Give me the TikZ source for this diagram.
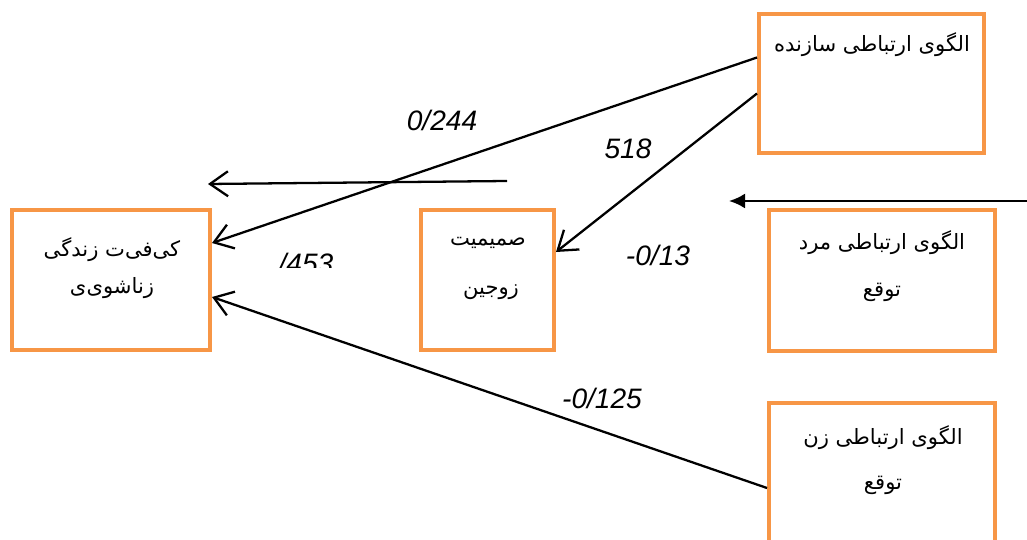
\documentclass[tikz,border=0pt]{standalone}
\usepackage{fontspec}
\usepackage{xcolor}
\usetikzlibrary{arrows.meta}
\setsansfont{Liberation Sans}
\newfontfamily\arabicfont[Script=Arabic]{DejaVu Sans}
\TeXXeTstate=1
\definecolor{boxorange}{HTML}{F79646}
\newcommand{\fa}[1]{{\arabicfont\fontsize{12}{14}\selectfont\beginR #1\endR}}

\begin{document}
\begin{tikzpicture}[x=0.02cm,y=-0.02cm,
  box/.style={draw=boxorange,line width=2.3pt,inner sep=0pt},
  link/.style={line width=1.3pt,-{Straight Barb[length=3.6mm,width=5mm,line width=1.3pt]}},
  coef/.style={font=\sffamily\itshape\fontsize{16}{18}\selectfont,inner sep=0pt}]
\useasboundingbox (0,0) rectangle (1027,540);
% boxes
\node[box,minimum width=4.5cm,minimum height=2.78cm] (sazandeh) at (871.5,83.5) {};
\node[box,minimum width=4.52cm,minimum height=2.82cm] (mard) at (882,280.5) {};
\node[box,minimum width=4.52cm,minimum height=2.84cm] (zan) at (882,474) {};
\node[box,minimum width=3.96cm,minimum height=2.8cm] (keyfiyat) at (111,280) {};
\node[box,minimum width=2.66cm,minimum height=2.8cm] (samimiyat) at (487.5,280) {};
% box texts
\node (tSazandeh) at (872,45) {\fa{الگوی ارتباطی سازنده}};
\node (tMard1) at (882,243) {\fa{الگوی ارتباطی مرد}};
\node (tMard2) at (882,292) {\fa{توقع}};
\node (tZan1) at (883,438) {\fa{الگوی ارتباطی زن}};
\node (tZan2) at (883,485) {\fa{توقع}};
\node (tKey1) at (112,250) {\fa{کی‌فی‌ت زندگی}};
\node (tKey2) at (112,288) {\fa{زناشوی‌ی}};
\node (tSam1) at (488,243) {\fa{صمیمیت}};
\node (tSam2) at (491,292) {\fa{زوجین}};
% free ends
\coordinate (topStart) at (507,181);
\coordinate (topEnd) at (208,184);
\coordinate (rightStart) at (1027,201);
\coordinate (rightEnd) at (729,201);
% connectors
\draw[link] ([yshift=0.52cm]sazandeh.west) -- ([yshift=0.74cm]keyfiyat.east);
\draw[link] ([yshift=-0.2cm]sazandeh.west) -- ([yshift=0.56cm]samimiyat.east);
\draw[link] (topStart) -- (topEnd);
\draw[line width=1.3pt,-{Latex[length=3.2mm,width=3mm]}] (rightStart) -- (rightEnd);
\draw[link] ([yshift=-0.28cm]zan.west) -- ([yshift=-0.34cm]keyfiyat.east);
% coefficients
\node[coef] (c244) at (442,120) {0/244};
\node[coef] (c518) at (628,149) {518};
\node[coef] (c13) at (658,255) {-0/13};
\node[coef] (c125) at (602,398) {-0/125};
\begin{scope}
\clip (250,240) rectangle (360,268);
\node[coef] (c453) at (306,263) {/453};
\end{scope}
\end{tikzpicture}
\end{document}
